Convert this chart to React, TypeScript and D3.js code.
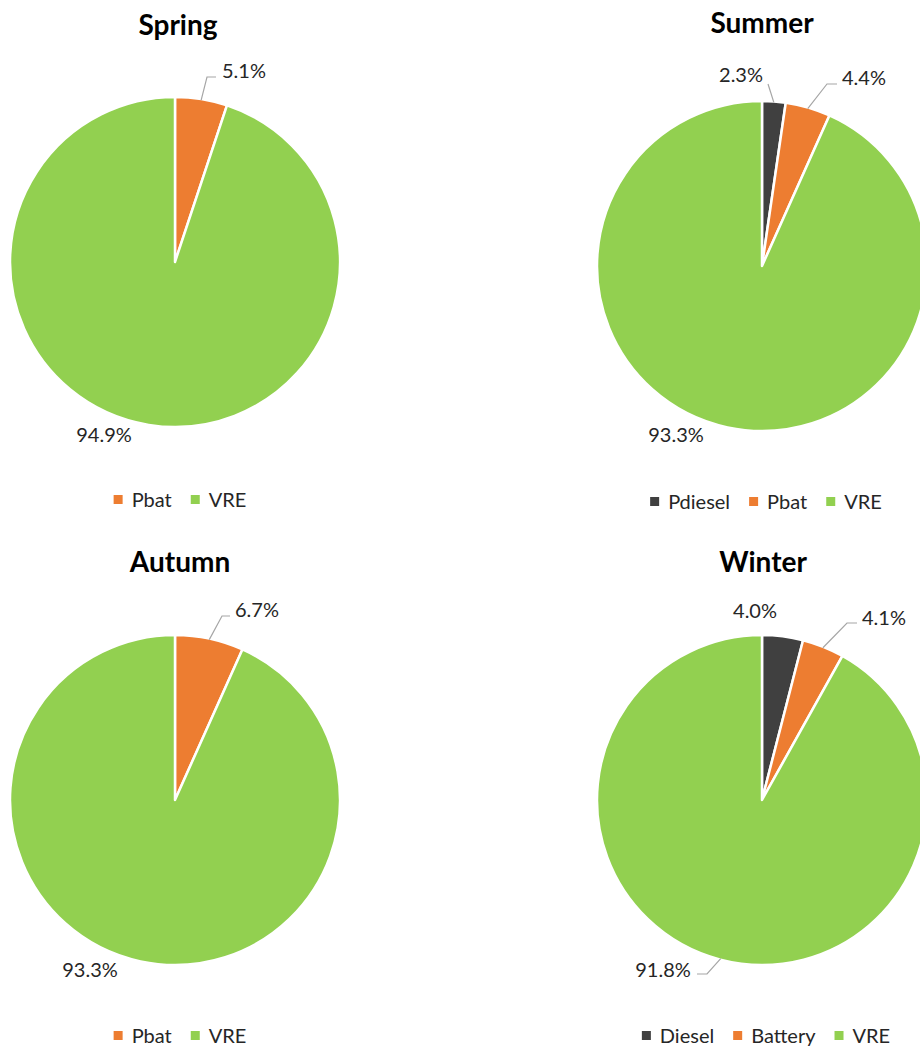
import React from "react";
import * as d3 from "d3";

// Seasonal energy share, in percent
const seasons = ["Spring", "Summer", "Autumn", "Winter"];

const springNames = ["Pbat", "VRE"];
const springValues = [5.1, 94.9];

const summerNames = ["Pdiesel", "Pbat", "VRE"];
const summerValues = [2.3, 4.4, 93.3];

const autumnNames = ["Pbat", "VRE"];
const autumnValues = [6.7, 93.3];

const winterNames = ["Diesel", "Battery", "VRE"];
const winterValues = [4.0, 4.1, 91.8];

// colour keys per slice (diesel / battery / renewables)
const springKinds = ["bat", "vre"];
const summerKinds = ["diesel", "bat", "vre"];
const autumnKinds = ["bat", "vre"];
const winterKinds = ["diesel", "bat", "vre"];

const COLORS: Record<string, string> = {
  diesel: "#404040",
  bat: "#ED7D31",
  vre: "#92D050",
};

type Pt = [number, number];
type LabelLayout = {
  x: number;
  y: number;
  anchor: "start" | "middle" | "end";
  leader?: Pt[];
};

const FONT = "Lato, 'Open Sans', sans-serif";
const R = 165;

// Pie placement and label offsets (relative to each pie centre)
const layouts: {
  cx: number;
  cy: number;
  titleDx: number;
  titleDy: number;
  legendDy: number;
  legendCx: number;
  labels: LabelLayout[];
}[] = [
  {
    cx: 175, cy: 262, titleDx: 3, titleDy: -227, legendDy: 245, legendCx: 180,
    labels: [
      { x: 47, y: -184, anchor: "start", leader: [[32, -185], [41, -185]] },
      { x: -71, y: 180, anchor: "middle" },
    ],
  },
  {
    cx: 762, cy: 266, titleDx: 0, titleDy: -233, legendDy: 243, legendCx: 766,
    labels: [
      { x: -21, y: -184, anchor: "middle", leader: [[6, -182]] },
      { x: 80, y: -181, anchor: "start", leader: [[65, -182], [75, -182]] },
      { x: -86, y: 176, anchor: "middle" },
    ],
  },
  {
    cx: 175, cy: 800, titleDx: 5, titleDy: -228, legendDy: 243, legendCx: 180,
    labels: [
      { x: 60, y: -183, anchor: "start", leader: [[47, -184], [55, -184]] },
      { x: -85, y: 177, anchor: "middle" },
    ],
  },
  {
    cx: 762, cy: 800, titleDx: 1, titleDy: -228, legendDy: 243, legendCx: 766,
    labels: [
      { x: -7, y: -182, anchor: "middle" },
      { x: 100, y: -175, anchor: "start", leader: [[85, -177], [95, -177]] },
      { x: -99, y: 177, anchor: "middle", leader: [[-55, 174], [-65, 174]] },
    ],
  },
];

const seriesNames = [springNames, summerNames, autumnNames, winterNames];
const seriesValues = [springValues, summerValues, autumnValues, winterValues];
const seriesKinds = [springKinds, summerKinds, autumnKinds, winterKinds];

let measureCtx: CanvasRenderingContext2D | null = null;
function textWidth(s: string, font: string): number {
  if (!measureCtx) {
    const c = document.createElement("canvas");
    measureCtx = c.getContext("2d");
  }
  if (!measureCtx) return s.length * 10;
  measureCtx.font = font;
  return measureCtx.measureText(s).width;
}

function SeasonPie({ idx }: { idx: number }) {
  const L = layouts[idx];
  const names = seriesNames[idx];
  const values = seriesValues[idx];
  const kinds = seriesKinds[idx];

  const pie = d3
    .pie<number>()
    .sort(null)
    .value((d) => d)
    .startAngle(0)
    .endAngle(2 * Math.PI);
  const arcs = pie(values);
  const arcGen = d3.arc<d3.PieArcDatum<number>>().innerRadius(0).outerRadius(R);

  // legend items laid out left to right, centred below the pie
  const sq = 9;
  const gapSqText = 9;
  const gapItems = 19;
  const legendFont = `20px ${FONT}`;
  const widths = names.map((n) => sq + gapSqText + textWidth(n, legendFont));
  const total = d3.sum(widths) + gapItems * (names.length - 1);
  let lx = L.legendCx - total / 2;
  const legendItems = names.map((n, i) => {
    const item = { name: n, x: lx, kind: kinds[i] };
    lx += widths[i] + gapItems;
    return item;
  });
  const ly = L.cy + L.legendDy;

  return (
    <g>
      <text
        x={L.cx + L.titleDx}
        y={L.cy + L.titleDy}
        textAnchor="middle"
        fontFamily={FONT}
        fontWeight="bold"
        fontSize={28}
        fill="#000"
      >
        {seasons[idx]}
      </text>
      <g transform={`translate(${L.cx},${L.cy})`}>
        {arcs.map((a, i) => (
          <path
            key={i}
            d={arcGen(a) || ""}
            fill={COLORS[kinds[i]]}
            stroke="#fff"
            strokeWidth={2.5}
            strokeLinejoin="round"
          />
        ))}
        {arcs.map((a, i) => {
          const lab = L.labels[i];
          const mid = (a.startAngle + a.endAngle) / 2;
          const start: Pt = [Math.sin(mid) * (R - 1), -Math.cos(mid) * (R - 1)];
          const pts: Pt[] = lab.leader ? [start, ...lab.leader] : [];
          return (
            <g key={i}>
              {pts.length > 0 && (
                <polyline
                  points={pts.map((p) => p.join(",")).join(" ")}
                  fill="none"
                  stroke="#A6A6A6"
                  strokeWidth={1.2}
                />
              )}
              <text
                x={lab.x}
                y={lab.y}
                textAnchor={lab.anchor}
                fontFamily={FONT}
                fontSize={20}
                fill="#262626"
              >
                {values[i].toFixed(1)}%
              </text>
            </g>
          );
        })}
      </g>
      {legendItems.map((it, i) => (
        <g key={i}>
          <rect x={it.x} y={ly - 12} width={sq} height={sq} fill={COLORS[it.kind]} />
          <text
            x={it.x + sq + gapSqText}
            y={ly}
            fontFamily={FONT}
            fontSize={20}
            fill="#262626"
          >
            {it.name}
          </text>
        </g>
      ))}
    </g>
  );
}

export default function App() {
  return (
    <svg
      width={920}
      height={1052}
      style={{ position: "absolute", left: 0, top: 0, background: "#fff" }}
    >
      <rect width={920} height={1052} fill="#fff" />
      {seasons.map((_, i) => (
        <SeasonPie key={i} idx={i} />
      ))}
    </svg>
  );
}
